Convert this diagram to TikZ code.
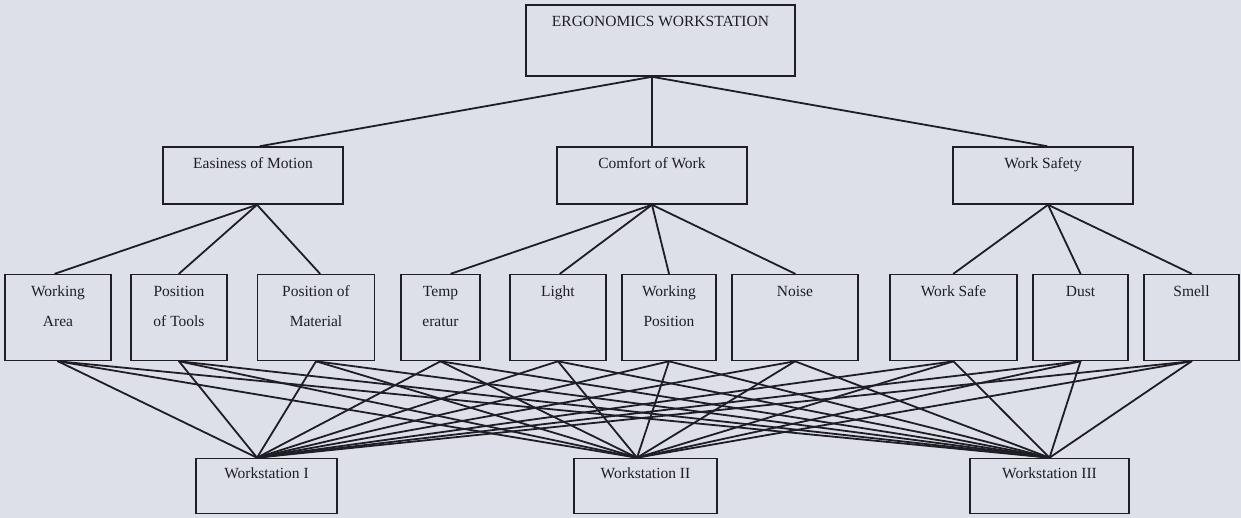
\documentclass[tikz,border=0pt]{standalone}
\usepackage{fontspec}
\setmainfont{Liberation Serif}
\definecolor{bg}{RGB}{221,223,233}
\definecolor{ink}{RGB}{30,30,36}
\begin{document}
\begin{tikzpicture}[x=1pt,y=-1pt,
  box/.style={draw=ink, line width=1.6pt, inner sep=0pt, rectangle},
  lbl/.style={anchor=north, align=center, text=ink, inner sep=0pt,
              font=\fontsize{15.5}{30}\selectfont},
  conn/.style={draw=ink, line width=1.8pt, line cap=round},
]
\fill[bg] (0,0) rectangle (1241,518);
\useasboundingbox (0,0) rectangle (1241,518);

% level 0
\node[box, minimum width=269pt, minimum height=71pt,
      label={[lbl, label distance=-12pt]north:ERGONOMICS WORKSTATION}] (top) at (660.5,40.5) {};

% level 1
\node[box, minimum width=180pt, minimum height=57pt,
      label={[lbl, label distance=-11pt]north:Easiness of Motion}] (em) at (253,175.5) {};
\node[box, minimum width=190pt, minimum height=57pt,
      label={[lbl, label distance=-11pt]north:Comfort of Work}] (cw) at (652,175.5) {};
\node[box, minimum width=180pt, minimum height=57pt,
      label={[lbl, label distance=-11pt]north:Work Safety}] (sf) at (1043,175.5) {};

% level 2
\node[box, minimum width=106pt, minimum height=86pt,
      label={[lbl, label distance=-12pt]north:Working\\Area}] (wa) at (58,317.5) {};
\node[box, minimum width=96pt, minimum height=86pt,
      label={[lbl, label distance=-12pt]north:Position\\of Tools}] (pt) at (179,317.5) {};
\node[box, minimum width=117pt, minimum height=86pt,
      label={[lbl, label distance=-12pt]north:Position of\\Material}] (pm) at (316,317.5) {};
\node[box, minimum width=79pt, minimum height=86pt,
      label={[lbl, label distance=-12pt]north:Temp\\eratur}] (te) at (440.5,317.5) {};
\node[box, minimum width=96pt, minimum height=86pt,
      label={[lbl, label distance=-12pt]north:Light}] (li) at (558,317.5) {};
\node[box, minimum width=94pt, minimum height=86pt,
      label={[lbl, label distance=-12pt]north:Working\\Position}] (wp) at (669,317.5) {};
\node[box, minimum width=126pt, minimum height=86pt,
      label={[lbl, label distance=-12pt]north:Noise}] (no) at (795,317.5) {};
\node[box, minimum width=127pt, minimum height=86pt,
      label={[lbl, label distance=-12pt]north:Work Safe}] (wsafe) at (953.5,317.5) {};
\node[box, minimum width=95pt, minimum height=86pt,
      label={[lbl, label distance=-12pt]north:Dust}] (du) at (1080.5,317.5) {};
\node[box, minimum width=95pt, minimum height=86pt,
      label={[lbl, label distance=-12pt]north:Smell}] (sm) at (1191.5,317.5) {};

% level 3
\node[box, minimum width=141pt, minimum height=55pt,
      label={[lbl, label distance=-10pt]north:Workstation I}] (w1) at (266.5,486) {};
\node[box, minimum width=143pt, minimum height=55pt,
      label={[lbl, label distance=-10pt]north:Workstation II}] (w2) at (645.5,486) {};
\node[box, minimum width=159pt, minimum height=55pt,
      label={[lbl, label distance=-10pt]north:Workstation III}] (w3) at (1049.5,486) {};

% connectors level 0 -> 1
\coordinate (topb) at ([xshift=-8.5pt]top.south);
\draw[conn] (topb) -- ([xshift=7pt]em.north);
\draw[conn] (topb) -- (cw.north);
\draw[conn] (topb) -- ([xshift=4pt]sf.north);

% connectors level 1 -> 2
\coordinate (emb) at ([xshift=4pt]em.south);
\draw[conn] (emb) -- ([xshift=-3pt]wa.north);
\draw[conn] (emb) -- (pt.north);
\draw[conn] (emb) -- ([xshift=4pt]pm.north);
\draw[conn] (cw.south) -- ([xshift=10.5pt]te.north);
\draw[conn] (cw.south) -- ([xshift=2pt]li.north);
\draw[conn] (cw.south) -- (wp.north);
\draw[conn] (cw.south) -- (no.north);
\coordinate (sfb) at ([xshift=5pt]sf.south);
\draw[conn] (sfb) -- (wsafe.north);
\draw[conn] (sfb) -- (du.north);
\draw[conn] (sfb) -- (sm.north);

% connectors level 2 -> 3
\coordinate (w1t) at ([xshift=-9.5pt]w1.north);
\coordinate (w2t) at ([xshift=-8.5pt]w2.north);
\coordinate (w3t) at (w3.north);
\foreach \c in {wa,pt,pm,te,li,wp,no,wsafe,du,sm}{
  \foreach \w in {w1t,w2t,w3t}{
    \draw[conn] (\c.south) -- (\w);
  }
}
\end{tikzpicture}
\end{document}
